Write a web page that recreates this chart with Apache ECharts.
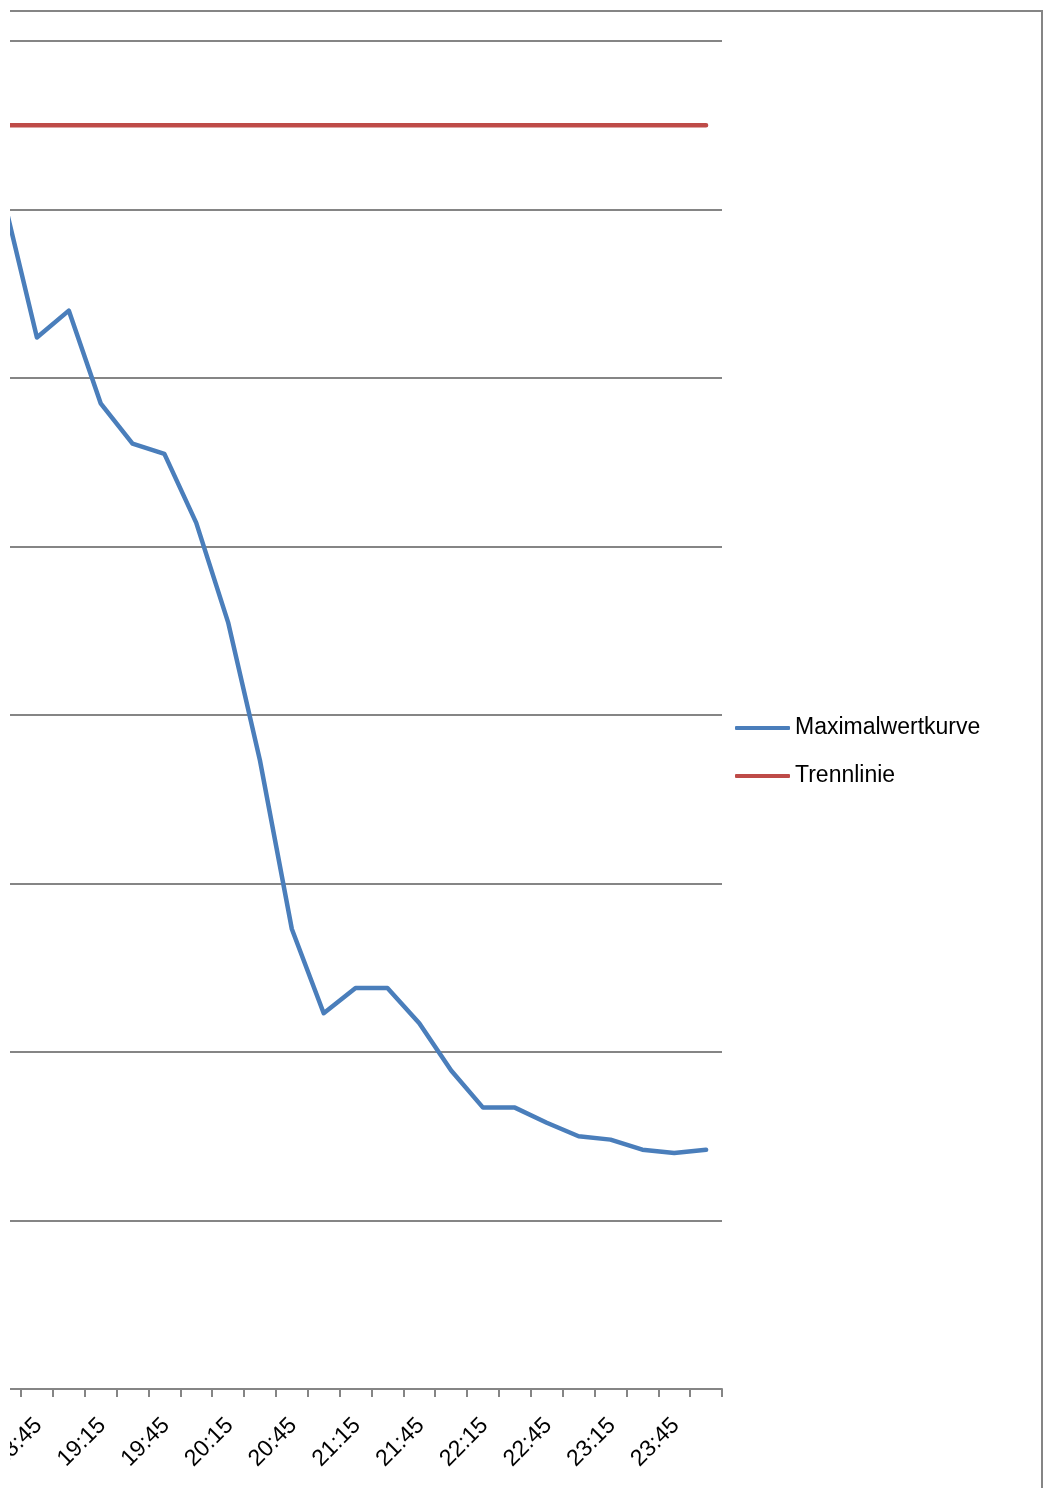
<!DOCTYPE html>
<html><head><meta charset="utf-8">
<script src="https://cdn.jsdelivr.net/npm/echarts@6/dist/echarts.min.js"></script>
<style>html,body{margin:0;padding:0;background:#fff}#c{width:1045px;height:1488px}</style>
</head><body><div id="c"></div>
<script>
// categories (15-minute slots)
const times = ['18:30','18:45','19:00','19:15','19:30','19:45','20:00','20:15','20:30','20:45','21:00','21:15','21:30','21:45','22:00','22:15','22:30','22:45','23:00','23:15','23:30','23:45','00:00'];
// series values
const maxCurve = [70.3, 62.4, 64.0, 58.5, 56.1, 55.5, 51.4, 45.5, 37.3, 27.3, 22.3, 23.8, 23.8, 21.7, 18.9, 16.7, 16.7, 15.8, 15.0, 14.8, 14.2, 14.0, 14.2];
const separator = [75, 75, 75, 75, 75, 75, 75, 75, 75, 75, 75, 75, 75, 75, 75, 75, 75, 75, 75, 75, 75, 75, 75];
// tick labels shown on the x axis
const labelTimes = ['18:45','19:15','19:45','20:15','20:45','21:15','21:45','22:15','22:45','23:15','23:45'];
const seriesNames = ['Maximalwertkurve', 'Trennlinie'];
const seriesColors = ['#4A7EBB', '#BE4B48'];

const FONT = 'Liberation Sans';
const GRAY = '#858585';
const labelShift = 0.05;

const chart = echarts.init(document.getElementById('c'), null, {renderer: 'canvas'});
chart.setOption({
  backgroundColor: '#ffffff',
  animation: false,
  grid: {left: 10, top: 41, right: 323, bottom: 99, outerBoundsMode: 'none', containLabel: false},
  legend: {
    orient: 'vertical', left: 735, top: 716, padding: 0,
    itemWidth: 55, itemHeight: 4, itemGap: 24, icon: 'roundRect',
    textStyle: {fontFamily: FONT, fontSize: 23, lineHeight: 24, color: '#000'},
    data: seriesNames.map((n, i) => ({name: n, itemStyle: {color: seriesColors[i]}}))
  },
  xAxis: {
    type: 'value', min: 0.155, max: times.length - 0.5,
    splitLine: {show: false},
    axisLine: {show: true, onZero: false, lineStyle: {color: GRAY, width: 2}},
    axisTick: {show: true, length: 8, lineStyle: {color: GRAY, width: 2},
      customValues: times.map((t, i) => i + 0.5)},
    axisLabel: {show: true, rotate: 45, margin: 33, fontFamily: FONT, fontSize: 23, color: '#000',
      customValues: labelTimes.map(t => times.indexOf(t) + labelShift),
      formatter: v => times[Math.round(v)]}
  },
  yAxis: {
    type: 'value', min: 0, max: 80, interval: 10,
    axisLine: {show: false}, axisTick: {show: false}, axisLabel: {show: false},
    splitLine: {show: true, lineStyle: {color: GRAY, width: 2}}
  },
  series: [
    {name: seriesNames[0], type: 'line', symbol: 'none', showSymbol: false,
      data: maxCurve.map((v, i) => [i, v]),
      lineStyle: {color: seriesColors[0], width: 4.5, cap: 'round', join: 'round'},
      itemStyle: {color: seriesColors[0]}, z: 3},
    {name: seriesNames[1], type: 'line', symbol: 'none', showSymbol: false,
      data: separator.map((v, i) => [i, v]),
      lineStyle: {color: seriesColors[1], width: 4.5, cap: 'round'},
      itemStyle: {color: seriesColors[1]}, z: 2}
  ],
  graphic: [
    {type: 'rect', z: 1000, shape: {x: 0, y: 0, width: 10, height: 1488}, style: {fill: '#ffffff'}},
    {type: 'polyline', z: 1001, shape: {points: [[10, 11], [1042, 11], [1042, 1488]]},
      style: {stroke: GRAY, lineWidth: 2, fill: null}}
  ]
});
</script></body></html>
